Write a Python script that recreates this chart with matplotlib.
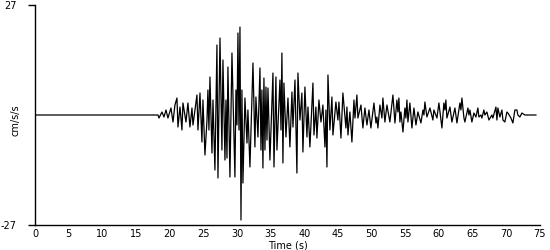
import matplotlib
matplotlib.use("Agg")
import matplotlib.pyplot as plt

# Accelerogram (time in s, acceleration in cm/s/s)
time_s = [
    0.15, 18.27, 18.42, 18.86, 19.16, 19.46, 19.75, 20.20, 20.50, 20.79, 21.09, 21.24,
    21.54, 21.83, 21.98, 22.43, 22.72, 23.02, 23.32, 23.47, 24.06, 24.21, 24.51, 24.80,
    24.95, 25.25, 25.55, 25.69, 25.84, 25.99, 26.29, 26.44, 26.73, 27.03, 27.18, 27.48,
    27.77, 27.92, 28.22, 28.37, 28.52, 28.66, 28.96, 29.26, 29.70, 29.85, 30.00, 30.15,
    30.30, 30.45, 30.60, 30.74, 30.89, 31.19, 31.49, 31.63, 31.93, 32.38, 32.67, 32.82,
    33.12, 33.42, 33.57, 33.71, 33.86, 34.01, 34.16, 34.31, 34.46, 34.61, 34.90, 35.35,
    35.50, 35.79, 35.94, 36.39, 36.54, 36.68, 36.83, 36.98, 37.28, 37.58, 37.87, 38.17,
    38.32, 38.62, 38.91, 39.06, 39.36, 39.65, 39.80, 40.10, 40.40, 40.55, 40.84, 41.29,
    41.44, 41.73, 41.88, 42.18, 42.48, 42.77, 43.07, 43.22, 43.37, 43.52, 43.81, 44.11,
    44.26, 44.70, 45.00, 45.15, 45.45, 45.74, 46.19, 46.34, 46.49, 46.78, 47.08, 47.38,
    47.53, 47.82, 47.97, 48.42, 48.71, 49.01, 49.31, 49.61, 49.90, 50.35, 50.65, 50.79,
    50.94, 51.24, 51.54, 51.68, 51.98, 52.28, 52.72, 53.17, 53.47, 53.76, 53.91, 54.06,
    54.21, 54.36, 54.66, 54.95, 55.10, 55.25, 55.40, 55.69, 55.99, 56.29, 56.59, 56.88,
    57.33, 57.63, 57.78, 57.92, 58.22, 58.67, 59.11, 59.26, 59.71, 60.00, 60.45, 60.74,
    60.89, 61.04, 61.19, 61.64, 61.93, 62.38, 62.68, 63.12, 63.27, 63.42, 63.72, 63.86,
    64.31, 64.46, 64.61, 64.90, 65.20, 65.50, 65.79, 65.94, 66.24, 66.39, 66.68, 66.83,
    67.13, 67.43, 67.87, 68.02, 68.47, 68.62, 68.76, 69.06, 69.36, 69.51, 69.80, 70.10,
    70.25, 70.70, 70.99, 71.29, 71.59, 71.73, 72.03, 72.33, 72.77, 74.41,
]
accel = [
    0.00, 0.00, -0.74, 0.74, -0.49, 1.23, -0.74, 1.72, -1.72, 2.45, 4.17, -2.95,
    1.96, -3.68, 2.95, -1.72, 2.95, -2.95, 1.72, -2.45, 4.91, -3.68, 5.40, -6.63,
    3.68, -9.82, -1.23, 6.14, -3.68, 9.33, -9.33, 3.68, -13.50, 17.18, -15.46, 18.90,
    -8.59, 13.50, -11.05, 3.68, -10.55, 11.78, -15.22, 15.22, -15.22, 6.14, -2.45, 20.13,
    -3.68, 21.60, -25.77, 6.14, -16.69, 4.17, -6.87, 1.23, -12.76, 12.76, -7.85, 4.42,
    -5.40, 11.54, -8.59, 6.14, -13.01, 9.08, -8.59, 6.87, -6.14, 6.63, -11.05, 10.31,
    -12.76, 9.33, -8.59, 8.59, -3.68, 15.22, -11.78, 7.85, -5.40, 4.17, -7.85, 5.65,
    -2.95, 8.59, -14.24, 10.31, -1.23, 5.40, -9.08, 6.87, -5.40, 1.96, -7.85, 7.85,
    -4.91, 1.96, -5.65, 3.68, -1.72, 2.45, -7.85, 1.23, -12.76, 9.82, -3.68, 4.42,
    -4.91, 3.19, -1.23, 3.19, -5.65, 5.40, -3.19, 1.96, -4.91, 0.74, -6.63, 3.68,
    -0.74, 4.91, -0.74, 2.45, -3.19, 1.72, -2.45, 1.23, -3.19, 2.95, -1.96, -0.49,
    -3.19, 2.45, -0.74, 4.17, -1.72, 2.45, -1.72, 4.91, -1.96, 3.68, 0.74, 4.17,
    -1.72, 0.74, -4.17, 1.72, -0.74, 3.68, -1.72, 2.95, -3.19, 1.72, -2.45, 0.74,
    -1.96, 1.23, 0.00, 3.19, -0.49, 1.72, -1.23, 1.23, -0.74, 2.95, -3.19, 2.95,
    1.23, 3.68, -0.74, 1.96, -1.72, 1.72, -1.96, 2.95, 1.23, 4.17, -0.74, -1.72,
    1.72, 0.00, 1.23, -1.72, 0.49, -0.49, 1.72, -0.49, 0.00, -0.74, 1.23, 0.00,
    0.74, -1.23, 0.00, -0.74, 1.96, -1.23, 1.72, -0.49, 1.23, -1.23, -1.72, 0.74,
    0.49, -0.74, -1.96, 1.23, 1.23, 0.00, -0.49, 0.49, 0.00, 0.00,
]

x_ticks = [0, 5, 10, 15, 20, 25, 30, 35, 40, 45, 50, 55, 60, 65, 70, 75]
y_ticks = [-27, 27]

fig = plt.figure(figsize=(5.5, 2.5), dpi=100)
ax = fig.add_axes([0.0636, 0.1, 0.918, 0.88])
ax.plot(time_s, accel, color="black", linewidth=0.9)

ax.set_xlim(0, 75)
ax.set_ylim(-27, 27)
ax.set_xticks(x_ticks)
ax.set_xticklabels([str(v) for v in x_ticks])
ax.set_yticks(y_ticks)
ax.set_yticklabels([str(v) for v in y_ticks])

for side in ("top", "right"):
    ax.spines[side].set_visible(False)
for side in ("left", "bottom"):
    ax.spines[side].set_linewidth(1.0)
    ax.spines[side].set_color("black")

ax.tick_params(axis="x", length=0, pad=3, labelsize=7)
ax.tick_params(axis="y", length=5, width=1.0, pad=8, labelsize=7)
ax.set_xlabel("Time (s)", fontsize=7, labelpad=1)
fig.text(15 / 550, 0.52, "cm/s/s", fontsize=7, rotation=90, ha="center", va="center")

fig.savefig("out.png", dpi=100)
